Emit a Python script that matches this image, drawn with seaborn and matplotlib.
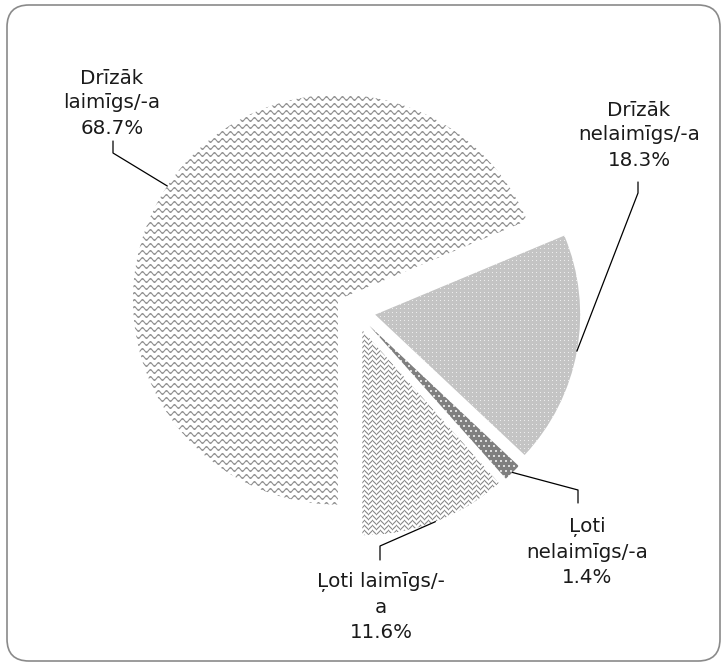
import numpy as np
import matplotlib
matplotlib.use("Agg")
import matplotlib.pyplot as plt
import seaborn as sns
from matplotlib.patches import FancyBboxPatch
from matplotlib.transforms import IdentityTransform

# Data
labels = ["Drīzāk\nlaimīgs/-a", "Drīzāk\nnelaimīgs/-a", "Ļoti\nnelaimīgs/-a", "Ļoti laimīgs/-\na"]
shares = [68.7, 18.3, 1.4, 11.6]

sns.set_theme(style="white")
plt.rcParams['font.family'] = ['DejaVu Sans']

W, H = 728, 666
R = 205            # pie radius in pixels
cx, cy = 355, 311  # pie centre in pixels (from top-left)

fig = plt.figure(figsize=(W / 100, H / 100), dpi=100)
ax = fig.add_axes([0, 0, 1, 1])

wedges, _ = ax.pie(shares, startangle=-90, counterclock=False, explode=[0.1] * 4,
                   radius=1, wedgeprops=dict(linewidth=0, facecolor='none'))
ax.set_xlim(-cx / R, (W - cx) / R)
ax.set_ylim(-(H - cy) / R, cy / R)
ax.set_aspect('equal', adjustable='box')
ax.axis('off')

# pattern fills, one pixel of texture per figure pixel
yy, xx = np.mgrid[0:H, 0:W].astype(float)

def gray_img(v):
    v = np.clip(v, 0, 1)
    return np.dstack([v, v, v])

# wave
d = (yy - 1.6 * np.sin(2 * np.pi * xx / 8)) % 7
d = np.minimum(d, 7 - d)
a = np.clip(1.4 - d, 0, 1)
wave = gray_img(1 - a * 0.42)

# light dotted
dots = np.full((H, W), 0.77)
dots[(xx % 4 == 0) & (yy % 4 == 0)] = 0.93
dots = gray_img(dots)

# dark dotted
dark = np.full((H, W), 0.5)
dark[((xx + 2 * ((yy // 5) % 2)) % 5 < 2) & (yy % 5 < 2)] = 0.86
dark = gray_img(dark)

# weave / zigzag
tri = np.abs((xx % 8) - 4)
d = (yy - tri) % 5
d = np.minimum(d, 5 - d)
a = np.clip(1.3 - d, 0, 1)
weave = gray_img(1 - a * 0.45)

ext = (ax.get_xlim()[0], ax.get_xlim()[1], ax.get_ylim()[0], ax.get_ylim()[1])
for w, tex in zip(wedges, [wave, dots, dark, weave]):
    im = ax.imshow(tex, extent=ext, origin='upper', interpolation='nearest', zorder=2)
    im.set_clip_path(w)
ax.set_xlim(ext[0], ext[1])
ax.set_ylim(ext[2], ext[3])

# labels with leader lines (pixel positions: text centre, elbow, end)
label_pos = [((112, 103), (113, 153), (113, 141)),
             ((639, 135), (638, 193), (638, 182)),
             ((587, 552), (578, 490), (578, 503)),
             ((381, 607), (380, 546), (380, 560))]

def to_data(p):
    return ((p[0] - cx) / R, (cy - p[1]) / R)

for w, lab, val, (tp, ep, np_) in zip(wedges, labels, shares, label_pos):
    mid = np.deg2rad((w.theta1 + w.theta2) / 2)
    ax0 = w.center[0] + w.r * np.cos(mid)
    ay0 = w.center[1] + w.r * np.sin(mid)
    e = to_data(ep)
    n = to_data(np_)
    ax.plot([ax0, e[0], n[0]], [ay0, e[1], n[1]], color='black', lw=0.9, zorder=3)
    t = to_data(tp)
    ax.text(t[0], t[1], f"{lab}\n{val}%", ha='center', va='center',
            multialignment='center', fontsize=14.3, linespacing=1.4, color='#1a1a1a')

# rounded frame
frame = FancyBboxPatch((7, H - 661), 713, 656, boxstyle="round,pad=0,rounding_size=22",
                       transform=IdentityTransform(), facecolor='none',
                       edgecolor='#8a8a8a', lw=1.2)
fig.patches.append(frame)

fig.savefig('out.png', dpi=100, facecolor='white')
